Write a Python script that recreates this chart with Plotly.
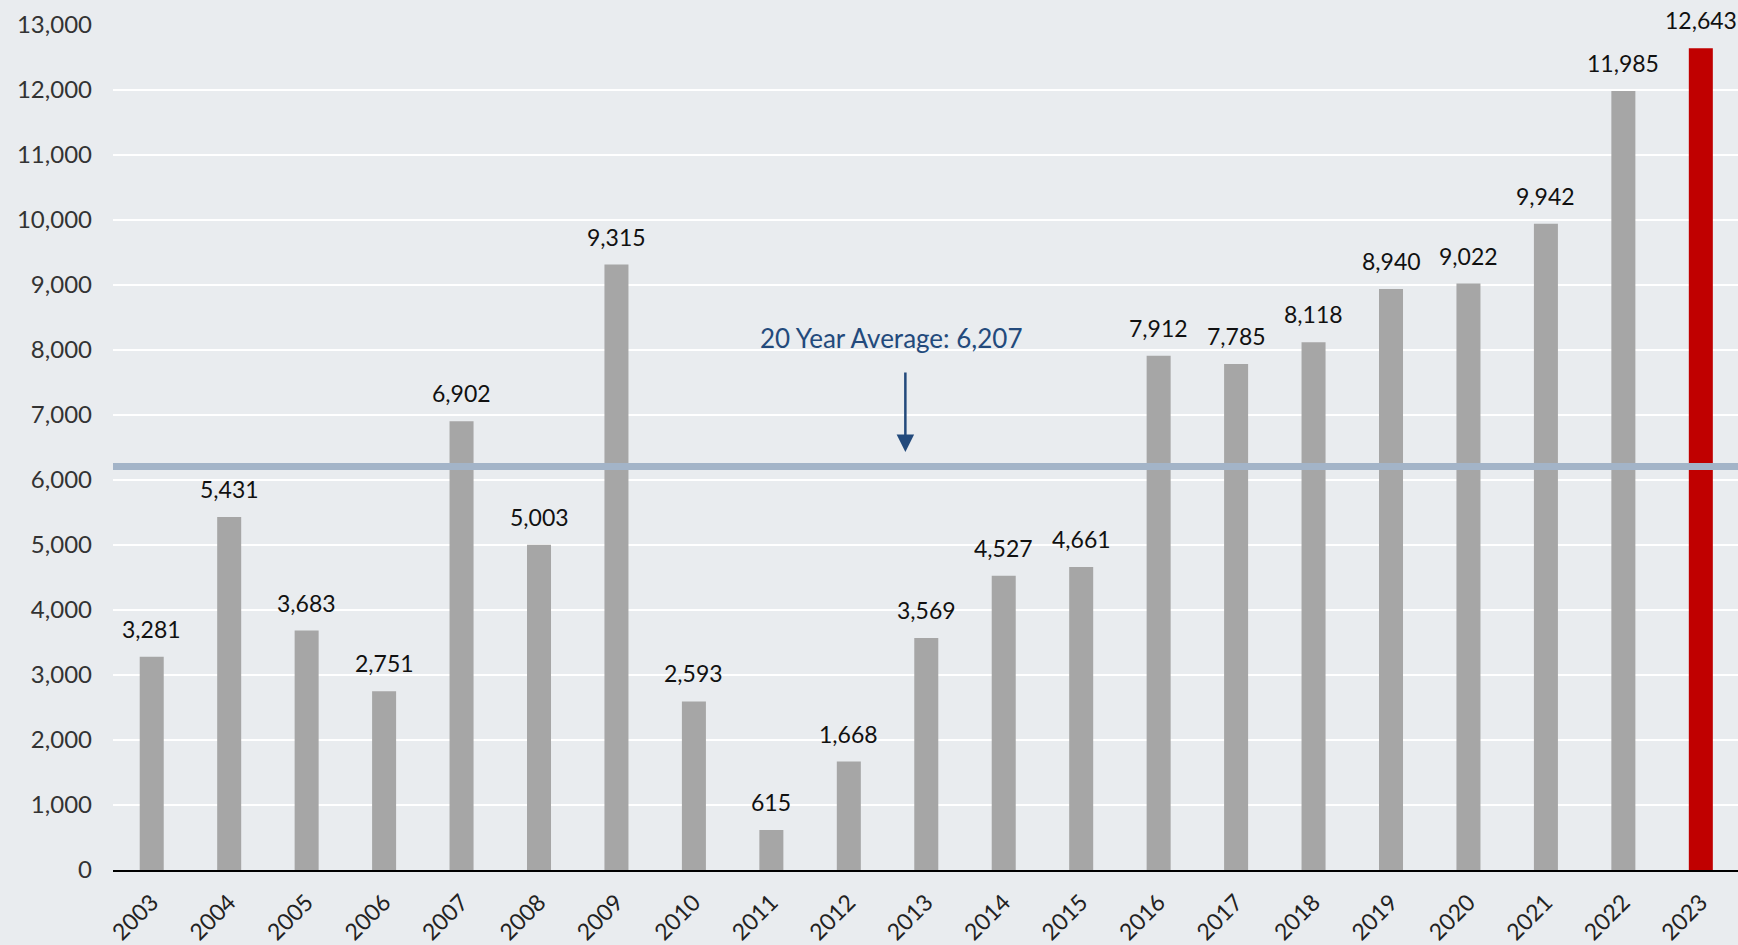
import plotly.graph_objects as go

years = list(range(2003, 2024))
values = [3281, 5431, 3683, 2751, 6902, 5003, 9315, 2593, 615, 1668, 3569,
          4527, 4661, 7912, 7785, 8118, 8940, 9022, 9942, 11985, 12643]
average = 6207
avg_label = "20 Year Average: 6,207"
y_ticks = list(range(0, 14000, 1000))

GRAY = "#a6a6a6"
RED = "#c00000"
BG = "#e9ecef"
FONT = "Lato"

colors = [GRAY] * (len(years) - 1) + [RED]

fig = go.Figure()
fig.add_trace(go.Bar(x=years, y=values, marker_color=colors, marker_line_width=0,
                     width=0.31, hoverinfo="skip"))

annotations = []
for yr, v in zip(years, values):
    annotations.append(dict(x=yr, y=v, text=f"{v:,}", showarrow=False,
                            yanchor="bottom", yshift=12,
                            font=dict(family=FONT, size=23, color="#111111")))

# average label + arrow
annotations.append(dict(x=2012.54, y=8185, text=avg_label, showarrow=False,
                        font=dict(family=FONT, size=26, color="#234a7c")))
annotations.append(dict(x=2012.73, y=6431, ax=2012.73, ay=7677, axref="x", ayref="y",
                        text="", showarrow=True, arrowhead=2, arrowsize=1.4,
                        arrowwidth=2.5, arrowcolor="#234a7c"))

fig.add_shape(type="line", xref="paper", x0=0, x1=1, yref="y", y0=average, y1=average,
              line=dict(color="#a3b4c8", width=7), layer="above")

fig.update_layout(
    width=1738, height=945,
    margin=dict(l=113, r=0, t=25, b=75),
    paper_bgcolor=BG, plot_bgcolor=BG,
    showlegend=False,
    annotations=annotations,
    font=dict(family=FONT),
)
fig.update_xaxes(range=[2002.5, 2023.48], tickmode="array", tickvals=years,
                 ticktext=[str(y) for y in years], tickangle=-45,
                 tickfont=dict(family=FONT, size=23, color="#222222"),
                 showgrid=False, showline=True, linecolor="#000000", linewidth=1.5,
                 ticks="", ticklabelstandoff=8)
fig.update_yaxes(range=[0, 13000], tickmode="array", tickvals=y_ticks,
                 ticktext=[f"{t:,}" for t in y_ticks],
                 tickfont=dict(family=FONT, size=24, color="#333333"),
                 showgrid=True, gridcolor="#ffffff", gridwidth=2, zeroline=False,
                 ticklabelstandoff=20)

fig.write_html("out.html", config={"displayModeBar": False},
               post_script="document.body.style.margin='0';document.body.style.padding='0';"
                           "document.body.style.overflow='hidden';")
